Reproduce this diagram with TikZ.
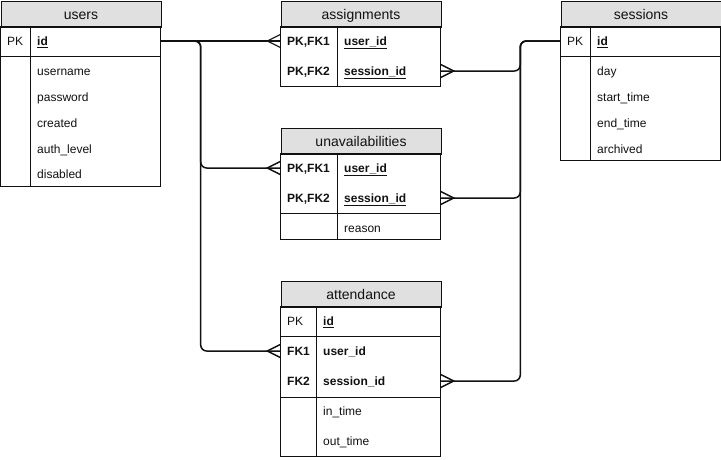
\documentclass[tikz,border=0pt]{standalone}
\usepackage{fontspec}
\setmainfont{Liberation Sans}
\usetikzlibrary{calc}
\definecolor{hdrgray}{HTML}{E0E0E0}
\definecolor{ink}{HTML}{111111}
\begin{document}
\begin{tikzpicture}[x=1pt,y=-1pt,
  hdr/.style={draw=ink, line width=1pt, fill=hdrgray, minimum width=160pt, minimum height=26pt, inner sep=0pt, text height=10pt, text depth=0pt, anchor=north west, font=\fontsize{14}{16}\selectfont, text=ink},
  tbl/.style={draw=ink, line width=1pt},
  keytxt/.style={anchor=west, inner sep=0pt, text height=9pt, text depth=0pt, font=\fontsize{12}{14}\selectfont, text=ink},
  fldtxt/.style={anchor=west, inner sep=0pt, text height=9pt, text depth=0pt, font=\fontsize{12}{14}\selectfont, text=ink},
  rowbox/.style={minimum width=160pt, minimum height=26pt, inner sep=0pt},
  conn/.style={draw=ink, line width=1.5pt, rounded corners=6pt},
  foot/.style={draw=ink, line width=1.5pt}]
\useasboundingbox (0,0) rectangle (721,459);

% ---------- users ----------
\node[hdr] (users) at (0.5,0.5) {users};
\draw[tbl] (0.5,26.5) rectangle (160.5,186);
\draw[tbl] (0.5,56) -- (160.5,56);
\draw[tbl] (30,26.5) -- (30,186);
\node[rowbox] (u-id) at (80.5,41) {};
\node[keytxt] at (7,41) {PK};
\node[fldtxt] (u-idt) at (37,41) {\textbf{\underline{id}}};
\node[fldtxt] (u-f1) at (37,71) {username};
\node[fldtxt] (u-f2) at (37,97) {password};
\node[fldtxt] (u-f3) at (37,123) {created};
\node[fldtxt] (u-f4) at (37,149) {auth\_level};
\node[fldtxt] (u-f5) at (37,174) {disabled};

% ---------- assignments ----------
\node[hdr] (assign) at (280.5,0.5) {assignments};
\draw[tbl] (280.5,26.5) rectangle (440.5,86);
\draw[tbl] (337,26.5) -- (337,86);
\node[rowbox] (as-uid) at (360.5,41) {};
\node[rowbox] (as-sid) at (360.5,71) {};
\node[keytxt] at (287,41) {\textbf{PK,FK1}};
\node[keytxt] at (287,71) {\textbf{PK,FK2}};
\node[fldtxt] at (344,41) {\textbf{\underline{user\_id}}};
\node[fldtxt] at (344,71) {\textbf{\underline{session\_id}}};

% ---------- unavailabilities ----------
\node[hdr] (unavail) at (280.5,127.5) {unavailabilities};
\draw[tbl] (280.5,153.5) rectangle (440.5,239);
\draw[tbl] (337,153.5) -- (337,239);
\draw[tbl] (280.5,213) -- (440.5,213);
\node[rowbox] (un-uid) at (360.5,168) {};
\node[rowbox] (un-sid) at (360.5,198) {};
\node[keytxt] at (287,168) {\textbf{PK,FK1}};
\node[keytxt] at (287,198) {\textbf{PK,FK2}};
\node[fldtxt] at (344,168) {\textbf{\underline{user\_id}}};
\node[fldtxt] at (344,198) {\textbf{\underline{session\_id}}};
\node[fldtxt] at (344,228) {reason};

% ---------- sessions ----------
\node[hdr] (sessions) at (560.5,0.5) {sessions};
\draw[tbl] (560.5,26.5) rectangle (720.5,160);
\draw[tbl] (560.5,56) -- (720.5,56);
\draw[tbl] (590.5,26.5) -- (590.5,160);
\node[rowbox] (s-id) at (640.5,41) {};
\node[keytxt] at (567,41) {PK};
\node[fldtxt] at (597,41) {\textbf{\underline{id}}};
\node[fldtxt] at (597,71) {day};
\node[fldtxt] at (597,97) {start\_time};
\node[fldtxt] at (597,123) {end\_time};
\node[fldtxt] at (597,149) {archived};

% ---------- attendance ----------
\node[hdr] (attend) at (280.5,280.5) {attendance};
\draw[tbl] (280.5,306.5) rectangle (440.5,456);
\draw[tbl] (280.5,336) -- (440.5,336);
\draw[tbl] (280.5,397) -- (440.5,397);
\draw[tbl] (316,306.5) -- (316,456);
\node[rowbox] (at-id) at (360.5,321) {};
\node[rowbox] (at-uid) at (360.5,351) {};
\node[rowbox] (at-sid) at (360.5,381) {};
\node[keytxt] at (287,321) {PK};
\node[keytxt] at (287,351) {\textbf{FK1}};
\node[keytxt] at (287,381) {\textbf{FK2}};
\node[fldtxt] at (323,321) {\textbf{\underline{id}}};
\node[fldtxt] at (323,351) {\textbf{user\_id}};
\node[fldtxt] at (323,381) {\textbf{session\_id}};
\node[fldtxt] at (323,411) {in\_time};
\node[fldtxt] at (323,441) {out\_time};

% ---------- connectors: users ----------
\draw[conn, line width=1.1pt] (u-id.east) -- (as-uid.west);
\draw[conn] (u-id.east) -- ++(40,0) |- (un-uid.west);
\draw[conn] (u-id.east) -- ++(40,0) |- (at-uid.west);
\draw[foot, line width=1.1pt] (as-uid.west) ++(0,-6.5) -- ++(-13,6.5) -- ++(13,6.5);
\draw[foot] (un-uid.west) ++(0,-6.5) -- ++(-13,6.5) -- ++(13,6.5);
\draw[foot] (at-uid.west) ++(0,-6.5) -- ++(-13,6.5) -- ++(13,6.5);

% ---------- connectors: sessions ----------
\draw[conn] (s-id.west) -- ++(-40,0) |- (as-sid.east);
\draw[conn] (s-id.west) -- ++(-40,0) |- (un-sid.east);
\draw[conn] (s-id.west) -- ++(-40,0) |- (at-sid.east);
\draw[foot] (as-sid.east) ++(0,-6.5) -- ++(13,6.5) -- ++(-13,6.5);
\draw[foot] (un-sid.east) ++(0,-6.5) -- ++(13,6.5) -- ++(-13,6.5);
\draw[foot] (at-sid.east) ++(0,-6.5) -- ++(13,6.5) -- ++(-13,6.5);
\end{tikzpicture}
\end{document}
